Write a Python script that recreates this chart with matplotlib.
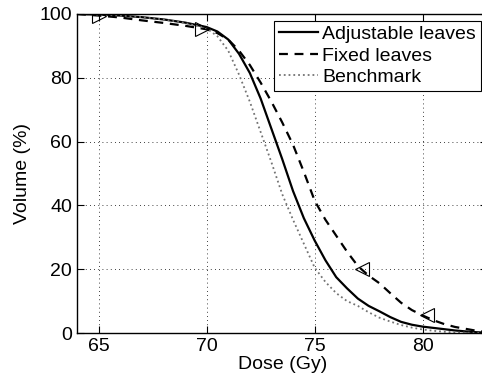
import numpy as np
import matplotlib
matplotlib.use("Agg")
import matplotlib.pyplot as plt

plt.rcParams['font.family'] = ['Liberation Sans', 'DejaVu Sans']

# dose (Gy) grid and volume (%) for each curve
dose = [64, 65, 66, 67, 68, 69, 70, 70.5, 71, 71.5, 72, 72.5, 73, 73.5, 74, 74.5,
        75, 75.5, 76, 76.5, 77, 77.5, 78, 78.5, 79, 79.5, 80, 80.5, 81, 81.5, 82, 82.5, 83]
adjustable = [100, 99.8, 99.5, 99.0, 98.3, 97.3, 95.9, 94.5, 92.0, 87.5, 81.5, 73.5, 64.0,
              54.5, 44.5, 36.0, 29.0, 22.8, 17.5, 14.0, 10.8, 8.5, 6.8, 5.0, 3.5, 2.6,
              2.0, 1.6, 1.2, 0.8, 0.5, 0.25, 0.1]
fixed = [100, 99.5, 98.9, 98.0, 97.2, 96.3, 95.2, 94.0, 92.0, 88.5, 84.0, 78.5, 72.5,
         66.0, 59.0, 50.5, 41.5, 35.5, 30.5, 25.5, 21.0, 18.0, 15.6, 12.5, 9.5, 7.2,
         5.5, 4.0, 2.8, 1.9, 1.3, 0.7, 0.3]
benchmark = [100, 99.8, 99.5, 99.0, 98.3, 97.2, 95.5, 93.0, 88.5, 81.0, 72.5, 63.0, 53.5,
             43.5, 35.5, 28.0, 20.5, 16.0, 12.5, 10.0, 8.5, 6.5, 4.8, 3.6, 2.5, 1.7,
             1.1, 0.7, 0.4, 0.2, 0.1, 0.05, 0.0]

# triangle markers
right_tri_x = [65, 69.8]
right_tri_y = [99.3, 95.3]
left_tri_x = [77.2, 80.2]
left_tri_y = [20.0, 5.5]

fig = plt.figure(figsize=(4.82, 3.83), dpi=100)
ax = fig.add_axes([0.1598, 0.1305, 0.8515, 0.833])

ax.plot(dose, adjustable, 'k-', lw=1.6, label='Adjustable leaves')
ax.plot(dose, fixed, 'k--', lw=1.6, dashes=(4, 3), label='Fixed leaves')
ax.plot(dose, benchmark, ':', color='0.45', lw=1.3, label='Benchmark')
ax.plot(right_tri_x, right_tri_y, '>', ms=10, mfc='none', mec='k', mew=0.8)
ax.plot(left_tri_x, left_tri_y, '<', ms=10, mfc='none', mec='k', mew=0.8)

ax.set_xlim(64, 83)
ax.set_ylim(0, 100)
ax.set_xticks([65, 70, 75, 80])
ax.set_yticks([0, 20, 40, 60, 80, 100])
ax.tick_params(direction='in', top=True, right=True, length=5, labelsize=14, width=0.8)
ax.grid(True, color='k', linestyle=(0, (1, 4)), linewidth=0.6)
for s in ax.spines.values():
    s.set_linewidth(1.0)

ax.set_xlabel('Dose (Gy)', fontsize=14, labelpad=1)
ax.set_ylabel('Volume (%)', fontsize=14, labelpad=6)

leg = ax.legend(loc='upper right', fontsize=14, handlelength=2.0, handletextpad=0.2,
                labelspacing=0.2, borderpad=0.25, borderaxespad=0.35,
                fancybox=False, framealpha=1, edgecolor='k')
leg.get_frame().set_linewidth(0.8)

fig.savefig('out.png', dpi=100)
